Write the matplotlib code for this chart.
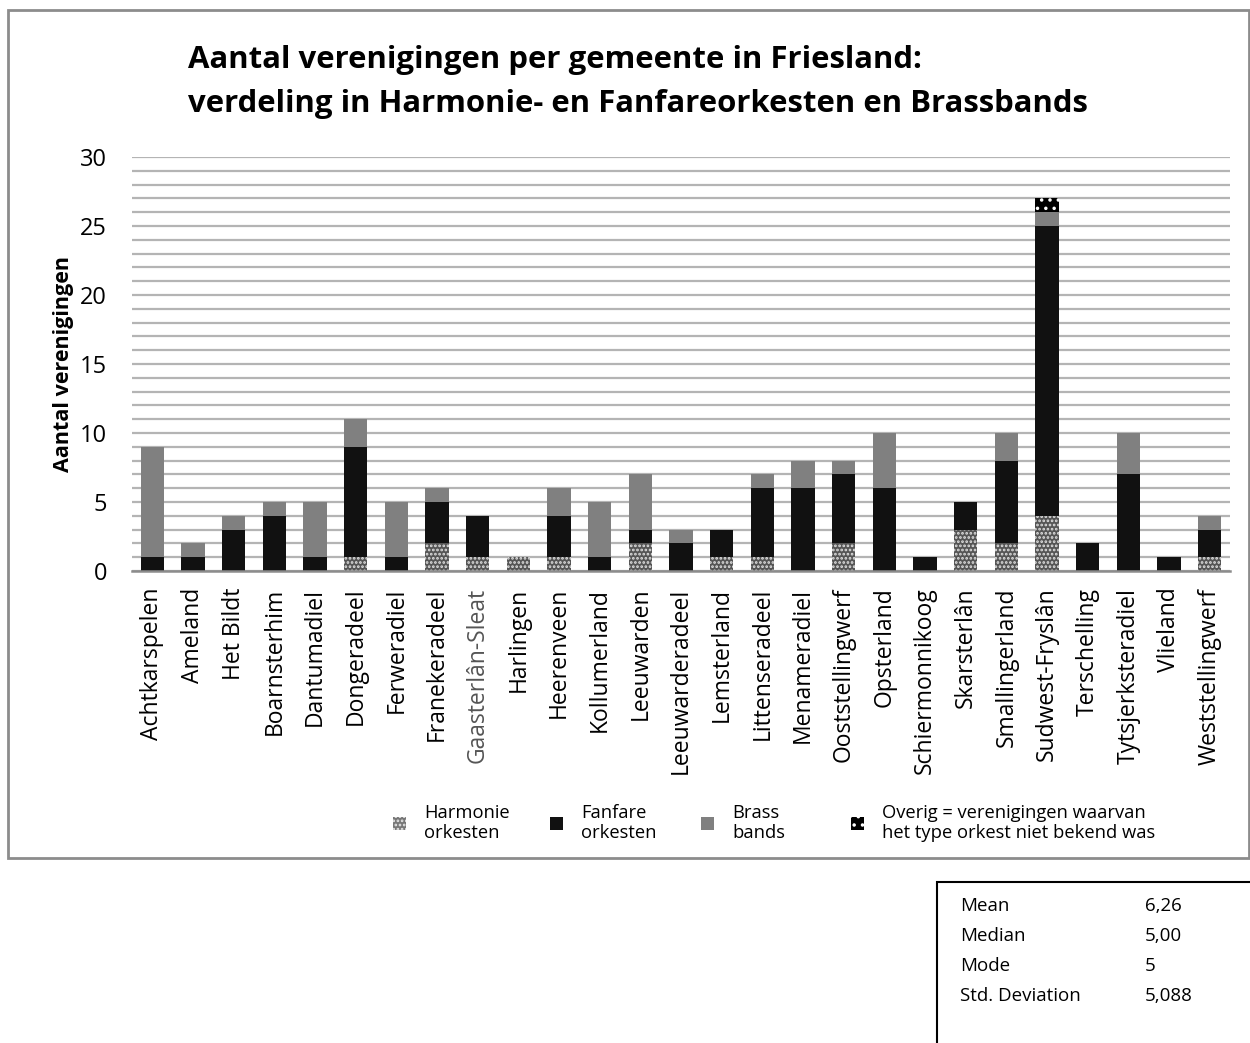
import matplotlib
matplotlib.use("Agg")
import matplotlib.pyplot as plt
from matplotlib.patches import Rectangle, Patch
import numpy as np

plt.rcParams['font.family'] = ['Open Sans', 'DejaVu Sans']
plt.rcParams['hatch.linewidth'] = 1.3

gemeenten = ["Achtkarspelen", "Ameland", "Het Bildt", "Boarnsterhim", "Dantumadiel",
             "Dongeradeel", "Ferweradiel", "Franekeradeel", "Gaasterlân-Sleat", "Harlingen",
             "Heerenveen", "Kollumerland", "Leeuwarden", "Leeuwarderadeel", "Lemsterland",
             "Littenseradeel", "Menameradiel", "Ooststellingwerf", "Opsterland",
             "Schiermonnikoog", "Skarsterlân", "Smallingerland", "Sudwest-Fryslân",
             "Terschelling", "Tytsjerksteradiel", "Vlieland", "Weststellingwerf"]
harmonie = [0, 0, 0, 0, 0, 1, 0, 2, 1, 1, 1, 0, 2, 0, 1, 1, 0, 2, 0, 0, 3, 2, 4, 0, 0, 0, 1]
fanfare  = [1, 1, 3, 4, 1, 8, 1, 3, 3, 0, 3, 1, 1, 2, 2, 5, 6, 5, 6, 1, 2, 6, 21, 2, 7, 1, 2]
brass    = [8, 1, 1, 1, 4, 2, 4, 1, 0, 0, 2, 4, 4, 1, 0, 1, 2, 1, 4, 0, 0, 2, 1, 0, 3, 0, 1]
overig   = [0, 0, 0, 0, 0, 0, 0, 0, 0, 0, 0, 0, 0, 0, 0, 0, 0, 0, 0, 0, 0, 0, 1, 0, 0, 0, 0]

legend_labels = ["Harmonie\norkesten", "Fanfare\norkesten", "Brass\nbands",
                 "Overig = verenigingen waarvan\nhet type orkest niet bekend was"]
stats_names = ["Mean", "Median", "Mode", "Std. Deviation"]
stats_values = ["6,26", "5,00", "5", "5,088"]

W, H = 1250, 1043
fig = plt.figure(figsize=(W / 100, H / 100), dpi=100)

# outer chart frame
fig.patches.append(Rectangle((8 / W, 1 - 858 / H), (1249 - 8) / W, (858 - 10) / H,
                             transform=fig.transFigure, fill=False,
                             edgecolor='#8c8c8c', linewidth=2))

ax = fig.add_axes([132 / W, 1 - 571 / H, (1230 - 132) / W, (571 - 157) / H])
x = np.arange(len(gemeenten))
bw = 0.57

h = np.array(harmonie); f = np.array(fanfare); b = np.array(brass); o = np.array(overig)
harm_style = dict(facecolor='#555555', edgecolor='#e0e0e0', hatch='....', linewidth=0)
ov_style = dict(facecolor='#000000', edgecolor='white', hatch='..', linewidth=0)
ax.bar(x, h, bw, zorder=3, **harm_style)
ax.bar(x, f, bw, bottom=h, color='#111111', linewidth=0, zorder=3)
ax.bar(x, b, bw, bottom=h + f, color='#808080', linewidth=0, zorder=3)
ax.bar(x, o, bw, bottom=h + f + b, zorder=3, **ov_style)

ax.set_xlim(-0.5, len(gemeenten) - 0.5)
ax.set_ylim(0, 30)
ax.set_yticks(range(0, 31, 5))
ax.set_yticks(range(0, 31, 1), minor=True)
ax.grid(axis='y', which='both', color='#b4b4b4', linewidth=1.6, zorder=0)
ax.tick_params(axis='y', which='both', length=0, labelsize=17, pad=18)
ax.tick_params(axis='x', length=0, labelsize=16.5, pad=12)
ax.set_xticks(x)
ax.set_xticklabels(gemeenten, rotation=90)
ax.get_xticklabels()[8].set_color('#555555')
for s in ['top', 'right', 'left']:
    ax.spines[s].set_visible(False)
ax.spines['bottom'].set_color('#8c8c8c')
ax.spines['bottom'].set_linewidth(1.8)
ax.spines['bottom'].set_zorder(4)

ax.set_ylabel("Aantal verenigingen", fontsize=15.5, fontweight='bold')
ax.yaxis.set_label_coords(-68 / 1098, 0.5)
ax.yaxis.label.set_verticalalignment('center')

fig.text(188 / W, 1 - 60 / H, "Aantal verenigingen per gemeente in Friesland:",
         fontsize=22.4, fontweight='bold', va='center', ha='left')
fig.text(188 / W, 1 - 104 / H, "verdeling in Harmonie- en Fanfareorkesten en Brassbands",
         fontsize=22.4, fontweight='bold', va='center', ha='left')

handles = [Patch(facecolor='#777777', edgecolor='#e8e8e8', hatch='....', linewidth=0),
           Patch(facecolor='#111111', linewidth=0),
           Patch(facecolor='#808080', linewidth=0),
           Patch(**ov_style)]
marker_x = [393, 550, 701, 851]
for hd, lab, mx in zip(handles, legend_labels, marker_x):
    fig.legend([hd], [lab], loc='center left',
               bbox_to_anchor=(mx / W, 1 - 823 / H), frameon=False, fontsize=13.2,
               handlelength=0.7, handleheight=0.7, handletextpad=1.0,
               borderpad=0, borderaxespad=0, labelspacing=0.1)

# statistics box
fig.patches.append(Rectangle((937 / W, -0.05), 0.5, 1 - 882 / H + 0.05,
                             transform=fig.transFigure, fill=False,
                             edgecolor='black', linewidth=1.5, clip_on=False))
for i, (n, v) in enumerate(zip(stats_names, stats_values)):
    yy = 1 - (906 + i * 30) / H
    fig.text(960 / W, yy, n, fontsize=13.5, va='center', ha='left')
    fig.text(1145 / W, yy, v, fontsize=13.5, va='center', ha='left')

fig.savefig("out.png", dpi=100)
